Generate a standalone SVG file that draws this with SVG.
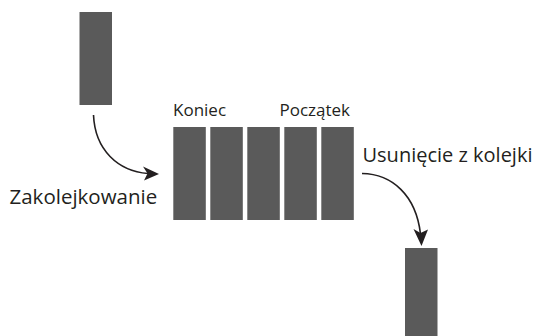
<svg xmlns="http://www.w3.org/2000/svg" width="540" height="336" viewBox="0 0 540 336">
<style>
.blk{fill:#5a5a5a}
.lbl{font-family:"Open Sans","Noto Sans",sans-serif;fill:#231f20}
.conn{fill:none;stroke:#231f20;stroke-width:1.6}
.head{fill:#231f20}
</style>
<rect width="540" height="336" fill="#ffffff"/>
<g id="incoming"><rect class="blk" x="79.5" y="12" width="32.5" height="93"/></g>
<g id="queue">
<rect class="blk" x="173.3" y="127" width="32.5" height="93"/>
<rect class="blk" x="210.3" y="127" width="32.5" height="93"/>
<rect class="blk" x="247.3" y="127" width="32.5" height="93"/>
<rect class="blk" x="284.3" y="127" width="32.5" height="93"/>
<rect class="blk" x="321.3" y="127" width="32.5" height="93"/>
<text class="lbl" x="173" y="115.5" font-size="17">Koniec</text>
<text class="lbl" x="279.5" y="115.5" font-size="17">Początek</text>
</g>
<g id="outgoing"><rect class="blk" x="405" y="248" width="32.5" height="90"/></g>
<g id="enqueue-label"><text class="lbl" x="9.5" y="204" font-size="20.5">Zakolejkowanie</text></g>
<g id="dequeue-label"><text class="lbl" x="362.5" y="162" font-size="20">Usunięcie z kolejki</text></g>
<g id="connectors">
<path class="conn" d="M93.5,115 C95,150 118,171 148,173.5"/>
<polygon class="head" points="159,174 143,166.5 147.5,173.5 144,180.5"/>
<path class="conn" d="M362,173.5 C392,174 416,195 420.5,234"/>
<polygon class="head" points="421.5,246 413.5,229 420.5,233 428,229.5"/>
</g>
</svg>
